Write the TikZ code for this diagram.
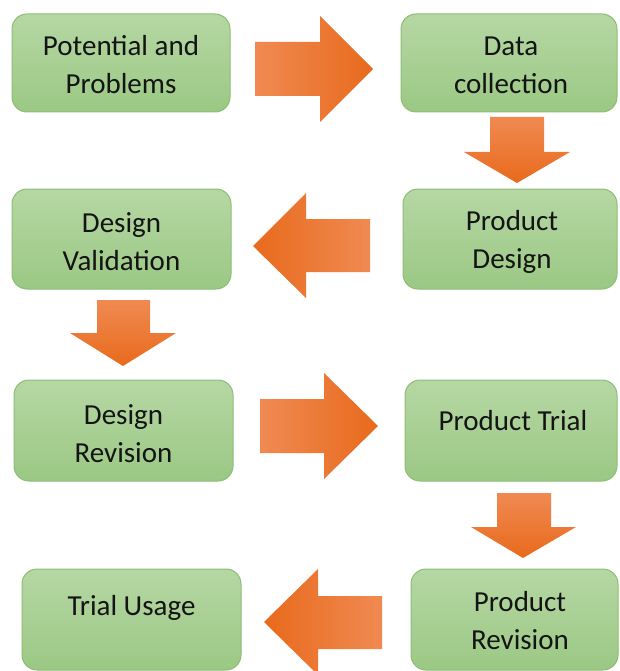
\documentclass[tikz,border=0pt]{standalone}
\usepackage{fontspec}
\setmainfont{Carlito}
\definecolor{gtop}{RGB}{182,215,164}
\definecolor{gbot}{RGB}{155,200,132}
\definecolor{gline}{RGB}{140,190,115}
\definecolor{olight}{RGB}{240,138,82}
\definecolor{omid}{RGB}{244,126,46}
\definecolor{odark}{RGB}{232,106,28}
\definecolor{txtc}{RGB}{20,20,20}
\begin{document}
\begin{tikzpicture}[x=1pt,y=-1pt,
  box/.style={draw=gline,line width=1pt,rounded corners=15pt,top color=gtop,bottom color=gbot,
    minimum width=218pt,minimum height=98pt,inner sep=0pt},
  txt/.style={font=\fontsize{29}{38}\selectfont,text=txtc,align=center,inner sep=0pt},
  rarrow/.style={left color=olight,middle color=omid,right color=odark},
  larrow/.style={left color=odark,middle color=omid,right color=olight},
  darrow/.style={top color=olight,middle color=omid,bottom color=odark}]
\useasboundingbox (0,0) rectangle (619,671);
% boxes
\node[box] (b1) at (121,63) {};
\node[box,minimum width=216pt] (b2) at (509,63) {};
\node[box,minimum width=214pt,minimum height=100pt] (b3) at (510,239) {};
\node[box,minimum width=219pt,minimum height=100pt] (b4) at (121.5,239) {};
\node[box,minimum width=219pt,minimum height=101pt] (b5) at (123.5,430.5) {};
\node[box,minimum width=212pt,minimum height=101pt] (b6) at (511,430.5) {};
\node[box,minimum width=219pt,minimum height=101pt] (b7) at (131.5,619.5) {};
\node[box,minimum width=207pt,minimum height=101pt] (b8) at (514.5,619.5) {};
% texts
\node[txt] (t1) at (121,65) {Potential and\\Problems};
\node[txt] (t2) at (511,65) {Data\\collection};
\node[txt] (t3) at (512,242) {Product\\Design};
\node[txt] (t4) at (121.5,242) {Design\\Validation};
\node[txt] (t5) at (123.5,434) {Design\\Revision};
\node[txt] (t6) at (513,421) {Product Trial};
\node[txt] (t7) at (131.5,608) {Trial Usage};
\node[txt] (t8) at (520,621) {Product\\Revision};
% block arrows
\shade[rarrow] (255,42) -- (320,42) -- (320,16) -- (373,69) -- (320,122) -- (320,96) -- (255,96) -- cycle;
\shade[darrow] (490,117) -- (544,117) -- (544,152) -- (570,152) -- (517,183) -- (464,152) -- (490,152) -- cycle;
\shade[larrow] (370,219) -- (306,219) -- (306,193) -- (253,246) -- (306,298) -- (306,272) -- (370,272) -- cycle;
\shade[darrow] (97,300) -- (150,300) -- (150,333) -- (176,333) -- (123,366) -- (70,333) -- (97,333) -- cycle;
\shade[rarrow] (260,399) -- (324,399) -- (324,373) -- (378,426) -- (324,479) -- (324,453) -- (260,453) -- cycle;
\shade[darrow] (497,493) -- (551,493) -- (551,527) -- (576,527) -- (523,558) -- (471,527) -- (497,527) -- cycle;
\shade[larrow] (382,596) -- (318,596) -- (318,569) -- (264,622) -- (318,675) -- (318,649) -- (382,649) -- cycle;
\end{tikzpicture}
\end{document}
